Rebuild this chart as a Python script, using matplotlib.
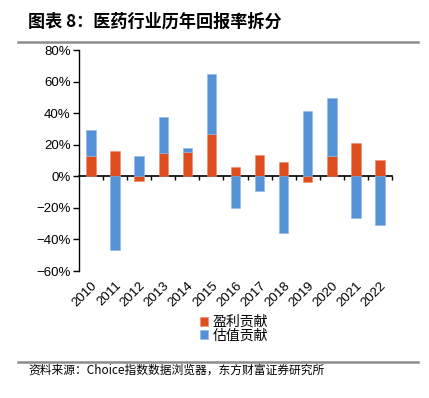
import matplotlib
matplotlib.use("Agg")
import matplotlib.pyplot as plt
import numpy as np
from matplotlib.ticker import FuncFormatter

plt.rcParams['font.family'] = ['Liberation Sans', 'Noto Sans CJK SC', 'DejaVu Sans']

# 数据：盈利贡献 / 估值贡献（%）
years = ['2010', '2011', '2012', '2013', '2014', '2015', '2016',
         '2017', '2018', '2019', '2020', '2021', '2022']
earn = [12.7, 16.1, -2.8, 15.0, 15.6, 26.9, 5.7, 13.7, 9.1, -3.8, 12.7, 21.1, 10.5]
valu = [16.7, -46.4, 12.7, 22.6, 2.2, 38.0, -20.3, -9.5, -36.2, 41.7, 37.2, -26.5, -30.9]

red = '#DE4D1E'
blue = '#5591D6'

earn = np.array(earn)
valu = np.array(valu)
x = np.arange(len(years))

# Excel 式堆积：正值向上叠加，负值向下叠加
pos_e = np.where(earn > 0, earn, 0)
neg_e = np.where(earn < 0, earn, 0)
base_v = np.where(valu > 0, pos_e, neg_e)

fig = plt.figure(figsize=(4.29, 3.98), dpi=100)
ax = fig.add_axes([0.184, 0.319, 0.730, 0.555])

w = 0.39
b1 = ax.bar(x, earn, w, color=red, edgecolor='#F08A6A', linewidth=0.4, label='盈利贡献', zorder=2)
b2 = ax.bar(x, valu, w, bottom=base_v, color=blue, edgecolor='#8DB6E8', linewidth=0.4,
            label='估值贡献', zorder=2)

ax.set_xlim(-0.5, len(years) - 0.5)
ax.set_ylim(-60, 80)
ax.set_yticks(np.arange(-60, 81, 20))
ax.yaxis.set_major_formatter(FuncFormatter(lambda v, p: f'{v:.0f}%'.replace('-', '\u2212')))
ax.tick_params(axis='y', direction='out', length=4, width=1, labelsize=9.5, pad=2)

for s in ['top', 'right', 'bottom']:
    ax.spines[s].set_visible(False)
ax.spines['left'].set_linewidth(1)

# 年份标签放在底部
ax.set_xticks(x)
ax.set_xticklabels(years, rotation=45, ha='right', va='top', rotation_mode='anchor', fontsize=9.5)
ax.tick_params(axis='x', length=0, pad=6)

# 零轴及分类间隔刻度
sec = ax.secondary_xaxis(60 / 140)
sec.spines['bottom'].set_linewidth(1.2)
sec.set_xticks(np.arange(0.5, len(years), 1))
sec.set_xticklabels([])
sec.tick_params(axis='x', direction='out', length=3, width=1)

leg = fig.legend(handles=[b1, b2], loc='upper left', bbox_to_anchor=(0.443, 0.233),
                 frameon=False, handlelength=0.6, handleheight=0.6, handletextpad=0.3,
                 labelspacing=-0.05, borderpad=0.2,
                 prop={'family': 'Noto Sans CJK SC', 'size': 10})

# 标题与来源
fig.text(0.066, 0.945, '图表 8：医药行业历年回报率拆分', fontsize=12.3, fontweight='bold',
         family=['Noto Sans CJK SC'], va='center', ha='left')
fig.add_artist(plt.Line2D([0.042, 0.975], [0.895, 0.895], color='#8C8C8C', linewidth=1.8))
fig.add_artist(plt.Line2D([0.042, 0.975], [0.091, 0.091], color='#8C8C8C', linewidth=1.8))
fig.text(0.066, 0.070, '资料来源：Choice指数数据浏览器，东方财富证券研究所', fontsize=8.5,
         family=['Noto Sans CJK SC'], va='center', ha='left')

fig.savefig('out.png', dpi=100)
